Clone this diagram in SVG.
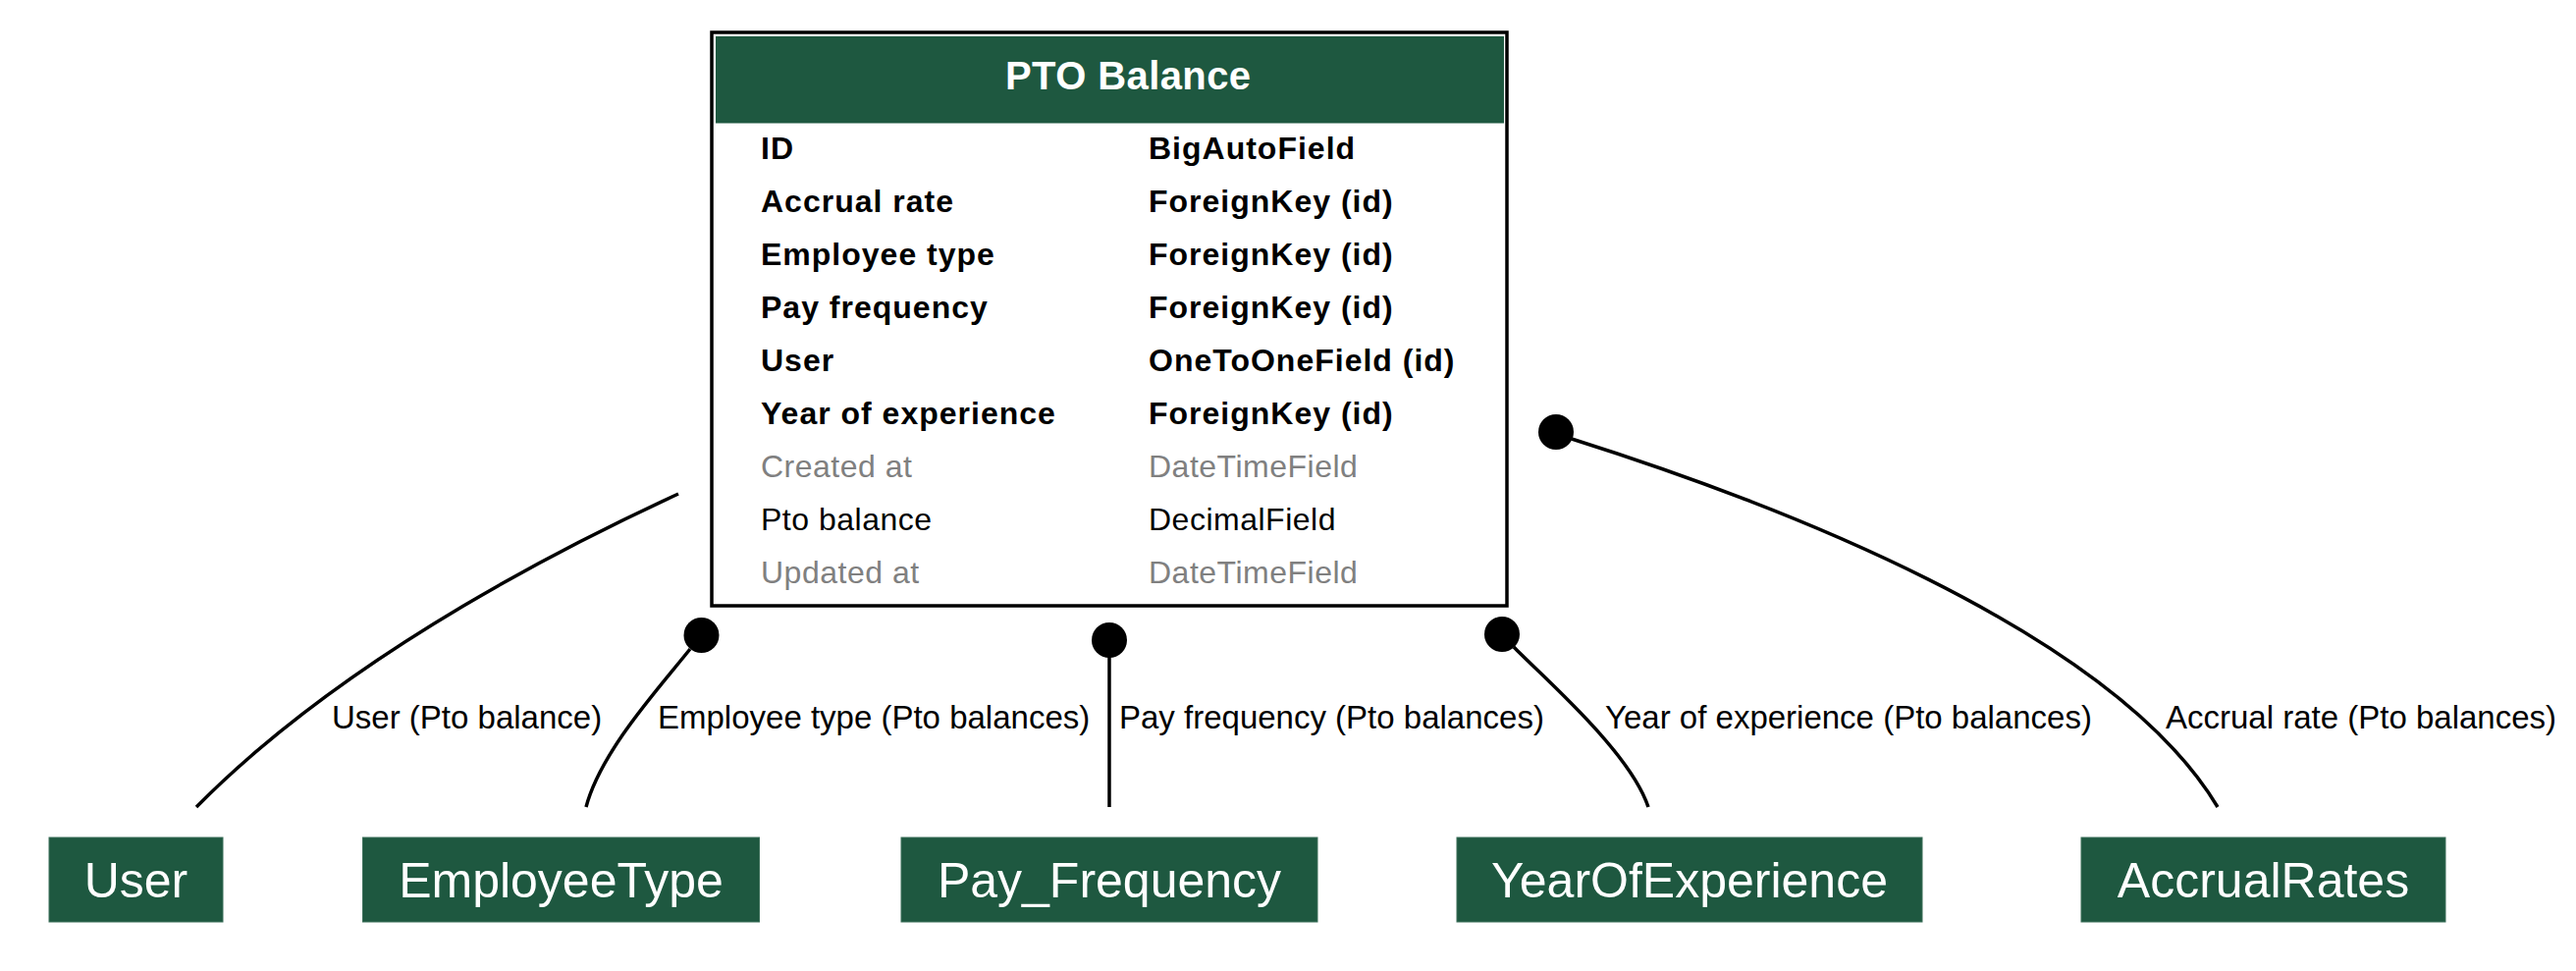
<svg xmlns="http://www.w3.org/2000/svg" width="2624" height="989" viewBox="0 0 2624 989">
<style>
text{font-family:"Liberation Sans",Arial,Helvetica,sans-serif}
.title{font-size:40px;font-weight:bold;fill:#ffffff;letter-spacing:0.4px}
.fb{font-size:32px;font-weight:bold;fill:#000000;letter-spacing:1px}
.fr{font-size:32px;fill:#000000;letter-spacing:0.5px}
.fg{font-size:32px;fill:#808080;letter-spacing:0.5px}
.nbox{fill:#1e5840;stroke:#3a6e58;stroke-width:1}
.nlabel{font-size:50px;fill:#ffffff;text-anchor:middle}
.elabel{font-size:33px;fill:#000000}
.edge{fill:none;stroke:#000000;stroke-width:3.5}
.dot{fill:#000000}
</style>
<rect width="2624" height="989" fill="#ffffff"/>
<g id="pto_balance">
<rect x="725" y="33" width="810" height="584" fill="#ffffff" stroke="#000000" stroke-width="3.5"/>
<rect x="729" y="37" width="803" height="88.5" fill="#1e5840"/>
<text class="title" x="1024" y="91">PTO Balance</text>
<text class="fb" x="775" y="162">ID</text>
<text class="fb" x="1170" y="162">BigAutoField</text>
<text class="fb" x="775" y="216">Accrual rate</text>
<text class="fb" x="1170" y="216">ForeignKey (id)</text>
<text class="fb" x="775" y="270">Employee type</text>
<text class="fb" x="1170" y="270">ForeignKey (id)</text>
<text class="fb" x="775" y="324">Pay frequency</text>
<text class="fb" x="1170" y="324">ForeignKey (id)</text>
<text class="fb" x="775" y="378">User</text>
<text class="fb" x="1170" y="378">OneToOneField (id)</text>
<text class="fb" x="775" y="432">Year of experience</text>
<text class="fb" x="1170" y="432">ForeignKey (id)</text>
<text class="fg" x="775" y="486">Created at</text>
<text class="fg" x="1170" y="486">DateTimeField</text>
<text class="fr" x="775" y="540">Pto balance</text>
<text class="fr" x="1170" y="540">DecimalField</text>
<text class="fg" x="775" y="594">Updated at</text>
<text class="fg" x="1170" y="594">DateTimeField</text>
</g>
<g id="user">
<rect class="nbox" x="50" y="853" width="177" height="86"/>
<text class="nlabel" x="138.5" y="914">User</text>
</g>
<g id="employeetype">
<rect class="nbox" x="369.5" y="853" width="404" height="86"/>
<text class="nlabel" x="571.5" y="914">EmployeeType</text>
</g>
<g id="pay_frequency">
<rect class="nbox" x="918" y="853" width="424" height="86"/>
<text class="nlabel" x="1130" y="914">Pay_Frequency</text>
</g>
<g id="yearofexperience">
<rect class="nbox" x="1484" y="853" width="474" height="86"/>
<text class="nlabel" x="1721" y="914">YearOfExperience</text>
</g>
<g id="accrualrates">
<rect class="nbox" x="2120" y="853" width="371" height="86"/>
<text class="nlabel" x="2305.5" y="914">AccrualRates</text>
</g>
<g id="connectors">
<path class="edge" d="M691,503 C600,545 360,660 200,822"/>
<text class="elabel" x="338" y="742">User (Pto balance)</text>
<circle class="dot" cx="714.5" cy="647" r="18"/>
<path class="edge" d="M703,661 C672,700 612,765 597,822"/>
<text class="elabel" x="670" y="742">Employee type (Pto balances)</text>
<circle class="dot" cx="1130" cy="652" r="18"/>
<path class="edge" d="M1130,668 L1130,822"/>
<text class="elabel" x="1140" y="742">Pay frequency (Pto balances)</text>
<circle class="dot" cx="1530" cy="646" r="18"/>
<path class="edge" d="M1542,659 C1570,688 1660,765 1679,822"/>
<text class="elabel" x="1635" y="742">Year of experience (Pto balances)</text>
<circle class="dot" cx="1585" cy="440" r="18"/>
<path class="edge" d="M1601,447 C1800,510 2150,640 2259,822"/>
<text class="elabel" x="2206" y="742">Accrual rate (Pto balances)</text>
</g>
</svg>
